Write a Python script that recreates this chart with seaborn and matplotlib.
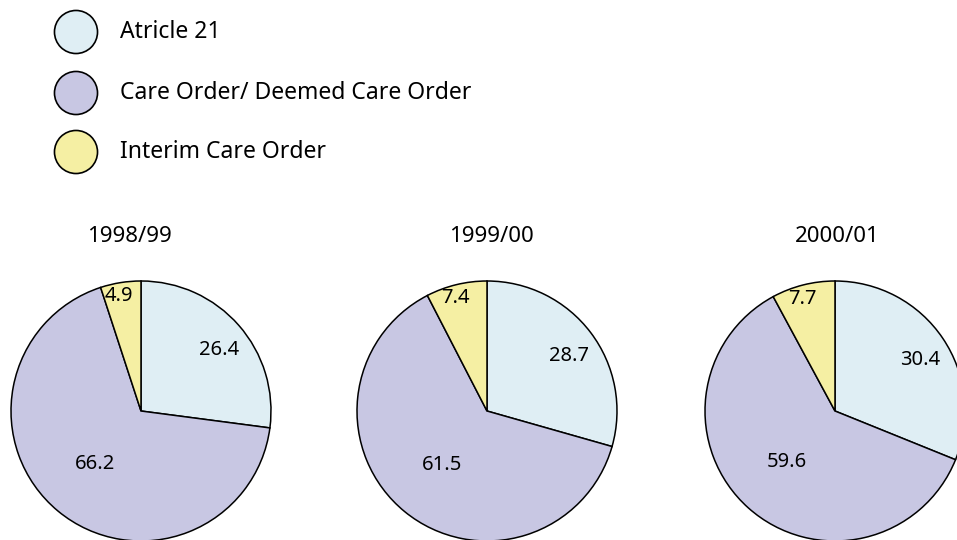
import numpy as np
import matplotlib
matplotlib.use('Agg')
import matplotlib.pyplot as plt
import seaborn as sns

# Data
categories = ['Atricle 21', 'Care Order/ Deemed Care Order', 'Interim Care Order']
years = ['1998/99', '1999/00', '2000/01']
article21 = [26.4, 28.7, 30.4]
care_order = [66.2, 61.5, 59.6]
interim = [4.9, 7.4, 7.7]

colors = ['#DFEEF4', '#C8C7E3', '#F5EFA3']

sns.set_theme(style='white')
plt.rcParams['font.family'] = ['Noto Sans', 'DejaVu Sans']

W, H = 957, 540
fig = plt.figure(figsize=(W / 100, H / 100), dpi=100)

# pie layout in pixels
r = 130
centers_x = [141, 487, 835]
center_y = 411
title_dx = [-12, 4, 2]
# label placement: fraction of radius, angle shift in degrees
label_r = [0.76, 0.54, 0.90]
label_shift = [-3, -1, 2]

for i, year in enumerate(years):
    vals = [article21[i], care_order[i], interim[i]]
    ax = fig.add_axes([(centers_x[i] - r) / W, (H - center_y - r) / H, 2 * r / W, 2 * r / H])
    wedges, _ = ax.pie(vals, colors=colors, startangle=90, counterclock=False,
                       wedgeprops=dict(edgecolor='black', linewidth=1.1))
    ax.set_xlim(-1, 1)
    ax.set_ylim(-1, 1)
    ax.set_aspect('auto')
    ax.axis('off')
    for j, w in enumerate(wedges):
        mid = np.deg2rad((w.theta1 + w.theta2) / 2 + label_shift[j])
        ax.text(label_r[j] * np.cos(mid), label_r[j] * np.sin(mid), f'{vals[j]:.1f}',
                ha='center', va='center', fontsize=14.5, color='black')
    ax.text(title_dx[i] / r, 174 / r, year, ha='center', va='center', fontsize=16,
            color='black', clip_on=False)

# legend drawn in pixel space
lax = fig.add_axes([0, 0, 1, 1])
lax.set_xlim(0, W)
lax.set_ylim(H, 0)
lax.axis('off')
leg_y = [32, 93, 152]
lax.scatter([76] * 3, leg_y, s=31 ** 2, c=colors, edgecolors='black', linewidths=1.2)
for y, lab in zip(leg_y, categories):
    lax.text(120, y, lab, ha='left', va='center', fontsize=16.5, color='black')

fig.savefig('out.png', dpi=100)
